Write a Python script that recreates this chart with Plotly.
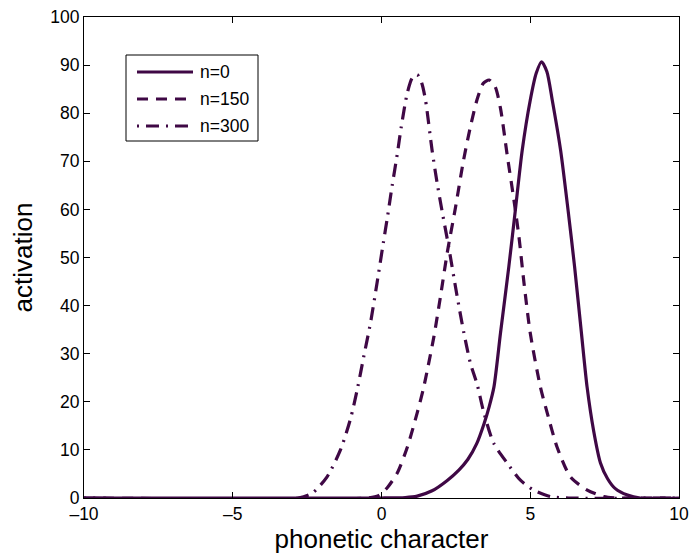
import plotly.graph_objects as go

# Activation profiles along the phonetic dimension at three time steps
x_n0 = [-10, 0.0, 0.8, 1.2, 1.7, 2.2, 2.6, 2.9, 3.2, 3.45, 3.62, 3.78, 4.0, 4.28, 4.5, 4.73,
        5.0, 5.2, 5.38, 5.56, 5.74, 6.02, 6.27, 6.49, 6.72, 6.91, 7.13, 7.36, 7.6, 7.85, 8.27, 8.7, 10]
y_n0 = [0, 0, 0.1, 0.4, 1.5, 3.6, 5.8, 8, 11.3, 15.5, 19, 23.1, 34.3, 48.1, 59.9, 72.3,
        82.7, 88.3, 90.7, 88.6, 82.7, 72.3, 59.9, 48.1, 34.3, 23.1, 14, 7.3, 4, 2, 0.6, 0, 0]

x_n150 = [-10, -0.5, -0.1, 0.2, 0.53, 0.87, 1.2, 1.4, 1.54, 1.76, 1.98, 2.21, 2.49, 2.76, 3.0,
          3.22, 3.42, 3.62, 3.82, 4.0, 4.22, 4.45, 4.62, 4.79, 5.0, 5.34, 5.57, 5.9, 6.35, 6.9,
          7.47, 8.0, 10]
y_n150 = [0, 0, 0.5, 2.2, 5.2, 10.6, 17.7, 22.5, 26.6, 33.5, 41.8, 51, 60.5, 70.3, 77.5,
          83, 86.2, 86.9, 85.5, 81, 71.5, 62, 54.3, 44.7, 34.3, 23.1, 17.7, 10.6, 4.4, 1.7,
          0.3, 0, 0]

x_n300 = [-10, -2.8, -2.33, -1.83, -1.38, -1.04, -0.8, -0.6, -0.37, -0.15, 0.06, 0.2, 0.36, 0.53,
          0.66, 0.86, 1.03, 1.2, 1.35, 1.48, 1.7, 1.87, 2.04, 2.25, 2.54, 2.77, 2.99, 3.22,
          3.43, 3.77, 4.22, 4.67, 5.1, 5.68, 6.3, 10]
y_n300 = [0, 0, 1, 4.4, 10, 16.5, 23, 29.3, 36.4, 44.7, 53, 58.4, 65, 71.5,
          77, 84, 87.3, 88, 86.3, 82.7, 72.3, 65.5, 59.5, 52.5, 42, 34.3, 28, 23.5,
          18, 11.4, 7.3, 3.7, 1.7, 0.3, 0, 0]

series_names = ["n=0", "n=150", "n=300"]
x_ticks = [-10, -5, 0, 5, 10]
x_tick_text = ["\u201310", "\u20135", "0", "5", "10"]
y_ticks = [0, 10, 20, 30, 40, 50, 60, 70, 80, 90, 100]

color = "#3f0845"
font = "Liberation Sans, Arial, Helvetica, sans-serif"
dashes = ["solid", "11px,8px", "2px,7px,13px,7px"]
line_w = 3.2

W, H = 689, 555
ML, MR, MT, MB = 84, 10, 17, 57
PW, PH = W - ML - MR, H - MT - MB


def px_to_paper(px, py):
    """Convert window pixels to paper coordinates of the plotting area."""
    return (px - ML) / PW, (H - MB - py) / PH


fig = go.Figure()
for xs, ys, name, dash in zip([x_n0, x_n150, x_n300], [y_n0, y_n150, y_n300],
                              series_names, dashes):
    fig.add_trace(go.Scatter(
        x=xs, y=ys, name=name, mode="lines", showlegend=False,
        line=dict(color=color, width=line_w, dash=dash, shape="spline", smoothing=0.7),
    ))

# Boxed legend in the upper-left corner
shapes = []
annotations = []
bx0, by0 = px_to_paper(126, 55)
bx1, by1 = px_to_paper(258, 141)
shapes.append(dict(type="rect", xref="paper", yref="paper", x0=bx0, x1=bx1, y0=by1, y1=by0,
                   line=dict(color="black", width=1), fillcolor="white", layer="above"))
for i, (name, dash) in enumerate(zip(series_names, dashes)):
    row_y = 72 + i * 27
    lx0, ly = px_to_paper(137, row_y)
    lx1, _ = px_to_paper(193, row_y)
    shapes.append(dict(type="line", xref="paper", yref="paper", x0=lx0, x1=lx1, y0=ly, y1=ly,
                       line=dict(color=color, width=line_w, dash=dash), layer="above"))
    tx, _ = px_to_paper(198, row_y)
    annotations.append(dict(xref="paper", yref="paper", x=tx, y=ly, xanchor="left",
                            yanchor="middle", text=name, showarrow=False,
                            font=dict(family=font, size=17.5, color="black")))

axis_common = dict(
    showgrid=False, zeroline=False, showline=True, linecolor="black", linewidth=1,
    mirror="ticks", ticks="inside", ticklen=6, tickcolor="black", automargin=False,
    tickfont=dict(family=font, size=17.5, color="black"),
)

fig.update_layout(
    width=W, height=H,
    margin=dict(l=ML, r=MR, t=MT, b=MB),
    paper_bgcolor="white", plot_bgcolor="white",
    font=dict(family=font, color="black"),
    xaxis=dict(range=[-10, 10], tickvals=x_ticks, ticktext=x_tick_text,
               title=dict(text="phonetic character", font=dict(size=26), standoff=4),
               **axis_common),
    yaxis=dict(range=[0, 100], tickvals=y_ticks,
               title=dict(text="activation", font=dict(size=26), standoff=10),
               **axis_common),
    shapes=shapes,
    annotations=annotations,
    showlegend=False,
)

fig.write_html("out.html")
